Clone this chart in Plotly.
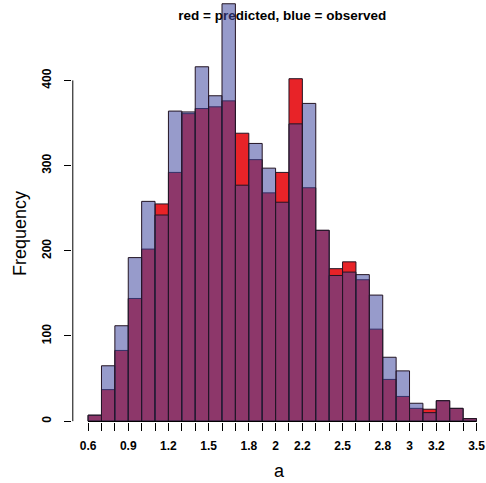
import plotly.graph_objects as go

# histogram bins of width 0.1 starting at 0.6
bin_left = [round(0.6 + 0.1 * i, 1) for i in range(29)]
observed = [7, 65, 112, 192, 258, 242, 364, 363, 416, 382, 490, 277, 326, 297, 257,
            349, 373, 224, 171, 175, 172, 148, 75, 59, 21, 10, 24, 15, 3]
predicted = [7, 37, 83, 144, 202, 255, 292, 361, 367, 369, 376, 338, 307, 268, 292,
             402, 274, 224, 179, 187, 166, 108, 49, 29, 15, 14, 24, 15, 3]

x_tick_vals = [round(0.6 + 0.1 * i, 1) for i in range(30)]
x_labelled = {"0.6": "0.6", "0.9": "0.9", "1.2": "1.2", "1.5": "1.5", "1.8": "1.8",
              "2.0": "2", "2.2": "2.2", "2.5": "2.5", "2.8": "2.8", "3.0": "3",
              "3.2": "3.2", "3.5": "3.5"}
x_tick_text = [x_labelled.get(f"{v:.1f}", "") for v in x_tick_vals]
y_tick_vals = [0, 100, 200, 300, 400]

centers = [b + 0.05 for b in bin_left]
edge = "rgb(35,20,35)"

fig = go.Figure()
fig.add_trace(go.Bar(x=centers, y=predicted, width=0.1, name="predicted",
                     marker=dict(color="rgb(232,35,40)", line=dict(color=edge, width=1))))
fig.add_trace(go.Bar(x=centers, y=observed, width=0.1, name="observed",
                     marker=dict(color="rgba(65,72,160,0.55)", line=dict(color=edge, width=1))))

font_main = "Liberation Sans, Arial, sans-serif"
tick_font = dict(size=12, family=font_main, color="black", weight="bold")

fig.update_layout(
    width=486, height=483,
    margin=dict(l=72, r=0, t=0, b=61),
    barmode="overlay",
    showlegend=False,
    plot_bgcolor="white", paper_bgcolor="white",
    font=dict(family=font_main, color="black"),
    xaxis=dict(range=[0.48, 3.571], tickvals=x_tick_vals, ticktext=x_tick_text,
               ticks="outside", ticklen=8, tickcolor="black", tickwidth=1,
               ticklabelstandoff=5,
               showgrid=False, zeroline=False, showline=False,
               tickfont=tick_font,
               title=dict(text="a", font=dict(size=18), standoff=11)),
    yaxis=dict(range=[-1, 494.4], tickvals=y_tick_vals, tickangle=-90,
               ticks="outside", ticklen=7, tickcolor="black", tickwidth=1,
               ticklabelstandoff=8,
               showgrid=False, zeroline=False, showline=False,
               tickfont=tick_font),
    annotations=[
        dict(text="Frequency", xref="paper", yref="paper",
             x=-52 / 414, y=188 / 422, textangle=-90, showarrow=False,
             xanchor="center", yanchor="middle",
             font=dict(size=18, family=font_main, color="black")),
    ],
    shapes=[
        # axis lines spanning only the data range
        dict(type="line", xref="x", yref="y", x0=0.6, x1=3.5, y0=-0.5, y1=-0.5,
             line=dict(color="black", width=1), layer="above"),
        dict(type="line", xref="x", yref="y", x0=0.486, x1=0.486, y0=0, y1=400,
             line=dict(color="black", width=1), layer="above"),
        # title text sits beneath the bars
        dict(type="rect", xref="x", yref="paper", x0=1.3, x1=2.8, y0=0.94, y1=0.994,
             line=dict(width=0), fillcolor="rgba(0,0,0,0)", layer="below",
             label=dict(text="<b>red = predicted, blue = observed</b>",
                        font=dict(size=13.5, family=font_main, color="black"),
                        textposition="middle center")),
    ],
)

fig.write_html("out.html")
